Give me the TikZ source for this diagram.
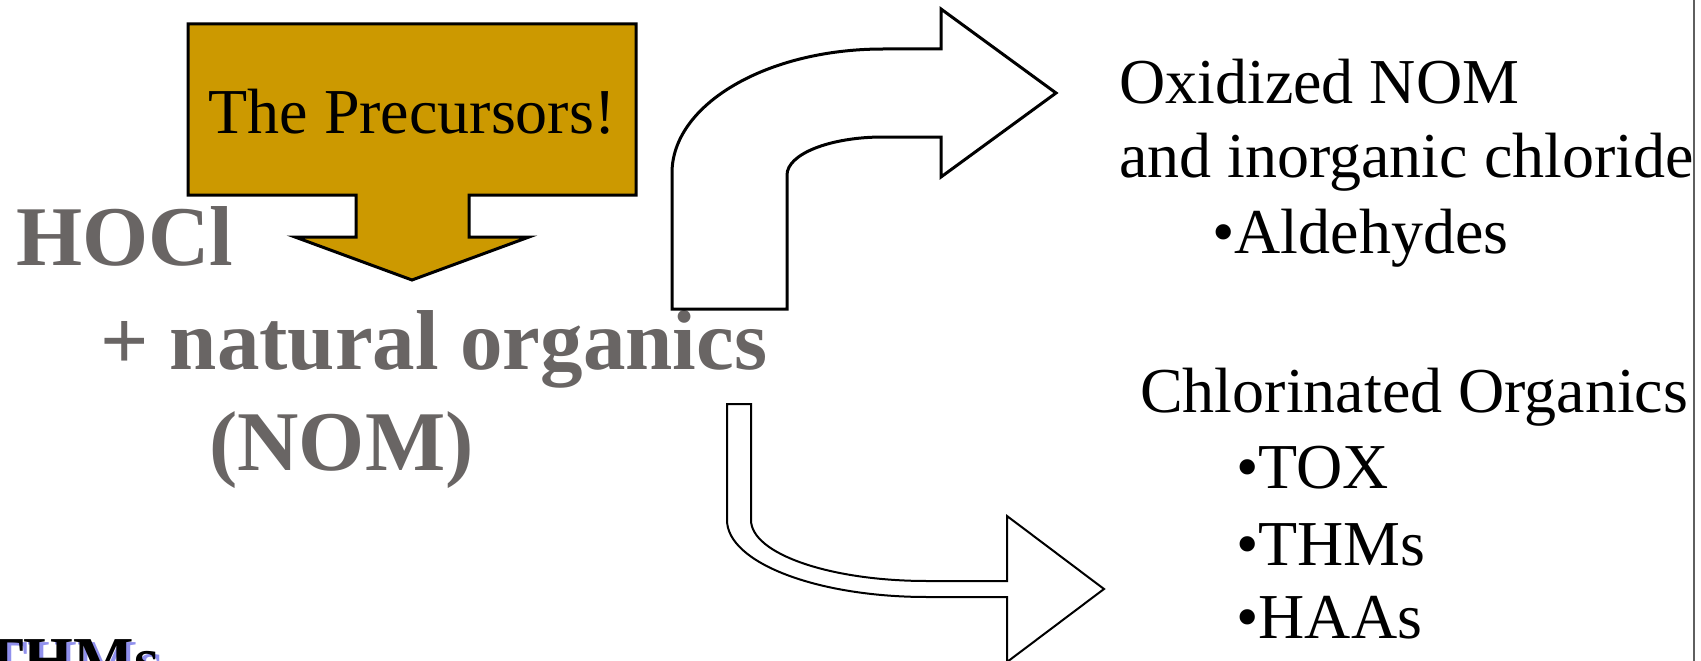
\documentclass[tikz,border=0pt]{standalone}
\usepackage{fontspec}
\setmainfont{Liberation Serif}
\usepackage{xcolor}
\usepackage{tikz}
\usetikzlibrary{positioning}
\tikzset{
  reactant/.style={font=\fontsize{85}{100}\selectfont\bfseries,
                   text=reactgray, inner sep=0pt, anchor=base west},
  product/.style ={font=\fontsize{64}{75}\selectfont,
                   inner sep=0pt, anchor=base west},
  calloutbox/.style={draw=black, fill=precgold, line width=3pt,
                   line join=miter},
  blockarr/.style={draw=black, fill=white, line join=miter},
  thmtext/.style ={font=\fontsize{64}{75}\selectfont\bfseries,
                   inner sep=0pt, anchor=base west},
}
\definecolor{precgold} {RGB}{204,153,0}
\definecolor{reactgray}{RGB}{105,101,100}
\definecolor{shadeblue}{RGB}{70,70,225}
\definecolor{edgegray} {RGB}{95,95,95}

\begin{document}
\begin{tikzpicture}[x=1pt,y=-1pt]
  \useasboundingbox (0,0) rectangle (1701,661);
  \begin{scope}
  \clip (0,0) rectangle (1701,661);
  \draw[calloutbox] (188,24) -- (636,24) -- (636,195) -- (469,195) -- (469,237)
    -- (529,237) -- (412,280) -- (295,237) -- (356,237) -- (356,195)
    -- (188,195) -- cycle;
  \node[product, anchor=base] (prec) at (412,133) {The Precursors!};
  \node[reactant] (hocl) at (16,265) {HOCl};
  \node[reactant] (nom) at (100,369) {+ natural organics};
  \node[reactant] (nomabbr) at (209,470) {(NOM)};
  \draw[blockarr, line width=3pt] (672,309) -- (672,173)
    .. controls (672,104.5) and (766.5,49) .. (883,49) -- (941,49) -- (941,9)
    -- (1056,93) -- (941,177) -- (941,137) -- (883,137)
    .. controls (830,137) and (787,154) .. (787,175) -- (787,309) -- cycle;
  \draw[blockarr, line width=2pt] (727,404) -- (727,520)
    .. controls (727,562.5) and (816.5,597) .. (927,597) -- (1007,597)
    -- (1007,662) -- (1104,589) -- (1007,516) -- (1007,581) -- (927,581)
    .. controls (829.8,581) and (751,553.7) .. (751,520) -- (751,404) -- cycle;
  \node[product] (oxnom) at (1119,103) {Oxidized NOM};
  \node[product] (inorg) at (1119,177) {and inorganic chloride};
  \node[product] (aldeh) at (1212,253) {•Aldehydes};
  \node[product] (clorg) at (1140,412) {Chlorinated Organics};
  \node[product] (tox) at (1236,488) {•TOX};
  \node[product] (thms) at (1236,565) {•THMs};
  \node[product] (haas) at (1236,638) {•HAAs};
  \node[thmtext, text=shadeblue, opacity=0.6] (thmshade) at (-15,684) {THMs};
  \node[thmtext] (thmfront) at (-19,681) {THMs};
  \draw[edgegray, line width=1.5pt] (1694,0) -- (1694,661);
  \end{scope}
\end{tikzpicture}
\end{document}
